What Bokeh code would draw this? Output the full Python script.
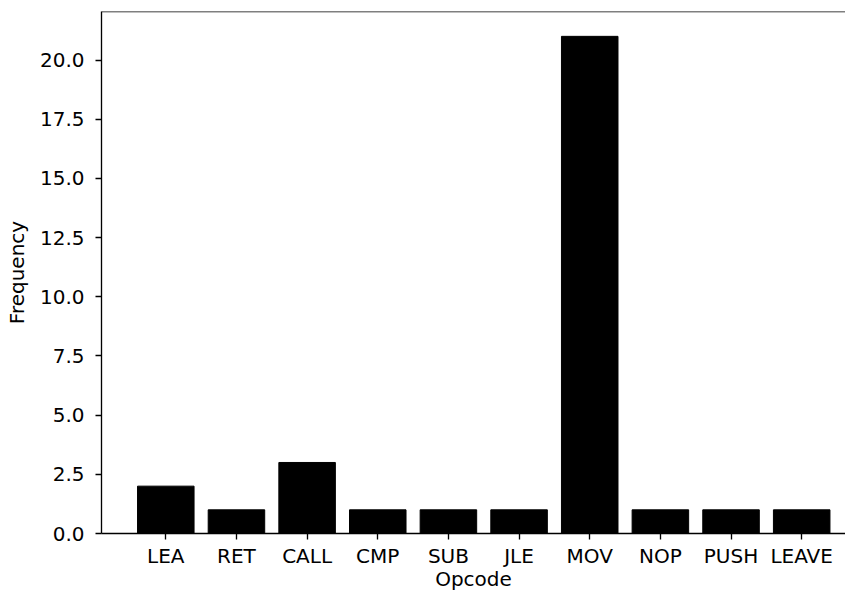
from bokeh.plotting import figure
from bokeh.models import FixedTicker, NumeralTickFormatter, Span, Range1d
from bokeh.embed import file_html
from bokeh.resources import INLINE

opcodes = ["LEA", "RET", "CALL", "CMP", "SUB", "JLE", "MOV", "NOP", "PUSH", "LEAVE"]
frequencies = [2, 1, 3, 1, 1, 1, 21, 1, 1, 1]
y_ticks = [0, 2.5, 5.0, 7.5, 10.0, 12.5, 15.0, 17.5, 20.0]

positions = list(range(len(opcodes)))
y_max = max(frequencies) * 1.05

FONT = "DejaVu Sans"
FS = "20px"
LW = 1.33

p = figure(width=845, height=593, output_backend="svg", toolbar_location=None,
           x_range=Range1d(-0.91, 9.62), y_range=Range1d(0, y_max),
           min_border_left=101, min_border_top=11, min_border_bottom=57, min_border_right=0)
p.outline_line_color = None
p.background_fill_color = "white"
p.border_fill_color = "white"
p.xgrid.visible = False
p.ygrid.visible = False

p.vbar(x=positions, top=frequencies, width=0.8, color="black")

top_spine = Span(location=y_max, dimension="width", line_color="black", line_width=LW)
p.add_layout(top_spine)

for ax in (p.xaxis[0], p.yaxis[0]):
    ax.axis_line_color = "black"
    ax.axis_line_width = LW
    ax.major_tick_line_color = "black"
    ax.major_tick_line_width = LW
    ax.major_tick_out = 6
    ax.major_tick_in = 0
    ax.minor_tick_line_color = None
    ax.major_label_text_font = FONT
    ax.major_label_text_font_size = FS
    ax.major_label_text_color = "black"
    ax.axis_label_text_font = FONT
    ax.axis_label_text_font_size = FS
    ax.axis_label_text_font_style = "normal"
    ax.axis_label_text_color = "black"

p.xaxis.ticker = FixedTicker(ticks=positions)
p.xaxis.major_label_overrides = {i: name for i, name in zip(positions, opcodes)}
p.xaxis.major_label_standoff = 4
p.xaxis.axis_label = "Opcode"
p.xaxis.axis_label_standoff = -4

p.yaxis.ticker = FixedTicker(ticks=y_ticks)
p.yaxis.formatter = NumeralTickFormatter(format="0.0")
p.yaxis.axis_label = "Frequency"
p.yaxis.major_label_standoff = 11
p.yaxis.axis_label_standoff = 8

open("out.html", "w").write(file_html(p, INLINE))
